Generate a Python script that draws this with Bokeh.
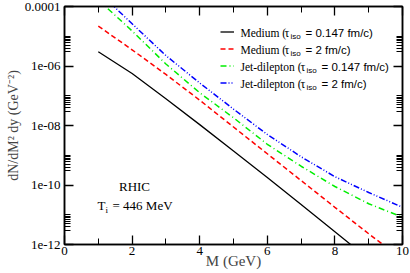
from bokeh.plotting import figure
from bokeh.models import (Range1d, LinearAxis, LogAxis, FixedTicker, CustomJSTickFormatter,
                          Legend, LegendItem, Label)
from bokeh.embed import file_html
from bokeh.resources import INLINE

# ---------------- data ----------------
M = [1, 2, 3, 4, 5, 6, 7, 8, 9, 10]
medium_tau0147 = [3.0e-6, 5.6e-7, 7.9e-8, 1.07e-8, 1.4e-9, 1.8e-10, 2.2e-11, 2.7e-12, 3.2e-13, 4.0e-14]
medium_tau2 = [2.2e-5, 3.5e-6, 5.2e-7, 7.1e-8, 8.9e-9, 1.12e-9, 1.41e-10, 1.78e-11, 2.3e-12, 3.2e-13]
jet_tau0147 = [1.66e-4, 1.51e-5, 1.17e-6, 1.26e-7, 1.82e-8, 2.34e-9, 4.27e-10, 8.9e-11, 2.34e-11, 8.3e-12]
jet_tau2 = [3.16e-4, 2.63e-5, 2.24e-6, 2.69e-7, 3.55e-8, 5.0e-9, 8.9e-10, 1.9e-10, 5.6e-11, 1.78e-11]

x_major = [0, 2, 4, 6, 8, 10]
x_minor = [1, 3, 5, 7, 9]
x_labels = ["0", "2", "4", "6", "8", "10"]
y_major = [1e-12, 1e-10, 1e-8, 1e-6, 1e-4]
y_labels = ["1e-12", "1e-10", "1e-08", "1e-06", "0.0001"]
y_minor = [k * 10.0 ** e for e in (-12, -10, -8, -6) for k in range(3, 11)]

series_names = ["Medium (", "Medium (", "Jet-dilepton (", "Jet-dilepton ("]
series_tau = ["= 0.147 fm/c)", "= 2 fm/c)", "= 0.147 fm/c)", "= 2 fm/c)"]

# ---------------- layout helpers (frame pixel geometry) ----------------
FL, FR, FT, FB = 64, 402, 6, 244
def mx(px):
    return (px - FL) / (FR - FL) * 10.0
def my(py):
    return 10.0 ** (-4.0 - (py - FT) / (FB - FT) * 8.0)

SERIF = "Liberation Serif"
SANS = "Liberation Sans"

p = figure(width=410, height=273, x_range=Range1d(0, 10), y_range=Range1d(1e-12, 1e-4),
           y_axis_type="log", output_backend="svg", toolbar_location=None,
           min_border_left=FL, min_border_right=410 - FR, min_border_top=FT,
           min_border_bottom=273 - FB)
p.xgrid.visible = False
p.ygrid.visible = False
p.outline_line_color = "black"
p.outline_line_width = 1.5
p.background_fill_color = "white"
p.border_fill_color = "white"

fmt_code = """
let best = 0, bd = Infinity;
for (let i = 0; i < vals.length; i++) {
  const d = logscale ? Math.abs(Math.log10(tick) - Math.log10(vals[i])) : Math.abs(tick - vals[i]);
  if (d < bd) { bd = d; best = i; }
}
return labs[best];
"""
empty_fmt = CustomJSTickFormatter(code="return '';")

def style_axis(ax, show_labels):
    ax.axis_line_color = "black"
    ax.axis_line_width = 1.5
    ax.major_tick_in = 9
    ax.major_tick_out = 0
    ax.minor_tick_in = 6
    ax.minor_tick_out = 0
    ax.major_tick_line_width = 1.3
    ax.minor_tick_line_width = 1
    ax.major_tick_line_color = "black"
    ax.minor_tick_line_color = "black"
    if show_labels:
        ax.major_label_text_font = SERIF
        ax.major_label_text_font_size = "13px"
        ax.major_label_text_color = "black"
    else:
        ax.major_label_text_font_size = "0px"
        ax.major_label_standoff = 0
        ax.formatter = empty_fmt

xt = FixedTicker(ticks=x_major, minor_ticks=x_minor)
yt = FixedTicker(ticks=y_major, minor_ticks=y_minor)

xa = p.xaxis[0]
xa.ticker = xt
xa.formatter = CustomJSTickFormatter(args=dict(vals=x_major, labs=x_labels, logscale=False), code=fmt_code)
style_axis(xa, True)
xa.major_label_standoff = 2
xa.axis_label = "M (GeV)"
xa.axis_label_text_font = SERIF
xa.axis_label_text_font_style = "normal"
xa.axis_label_text_font_size = "15px"
xa.axis_label_standoff = -5

ya = p.yaxis[0]
ya.ticker = yt
ya.formatter = CustomJSTickFormatter(args=dict(vals=y_major, labs=y_labels, logscale=True), code=fmt_code)
style_axis(ya, True)
ya.major_label_standoff = 4
ya.axis_label = "dN/dM\u00b2 dy (GeV\u207b\u00b2)"
ya.axis_label_text_font = SERIF
ya.axis_label_text_font_style = "normal"
ya.axis_label_text_font_size = "14px"
ya.axis_label_standoff = 1

top = LinearAxis(ticker=FixedTicker(ticks=x_major, minor_ticks=x_minor))
style_axis(top, False)
p.add_layout(top, "above")
right = LogAxis(ticker=FixedTicker(ticks=y_major, minor_ticks=y_minor))
style_axis(right, False)
p.add_layout(right, "right")

# ---------------- curves ----------------
r1 = p.line(M, medium_tau0147, line_color="black", line_width=1.3)
r2 = p.line(M, medium_tau2, line_color="#ff0000", line_width=1.5, line_dash="5 3")
r3 = p.line(M, jet_tau0147, line_color="#00ee00", line_width=1.5, line_dash="6 3 1 3")
r4 = p.line(M, jet_tau2, line_color="#0000ff", line_width=1.5, line_dash="6 2 1 2 1 2")

legend = Legend(items=[LegendItem(label=" ", renderers=[r]) for r in (r1, r2, r3, r4)],
                location=(220 - FL, FB - 91), padding=0, margin=0, spacing=0,
                glyph_width=14, glyph_height=17, label_height=17, label_width=1,
                label_standoff=0, border_line_color=None, background_fill_alpha=0,
                label_text_font_size="1px")
p.add_layout(legend)

def add_text(px, py, text, font, size, align="left"):
    p.add_layout(Label(x=mx(px), y=my(py), text=text, text_font=font, text_font_size=size,
                       text_align=align, text_baseline="middle", text_color="black"))

row_y = [32, 49, 66, 83]
for i in range(4):
    y = row_y[i]
    add_text(240, y, series_names[i], SERIF, "11.5px")
    if i < 2:
        tx, sx, ex = 284, 290, 305
    else:
        tx, sx, ex = 300, 306, 321
    add_text(tx, y, "\u03c4", SERIF, "12px")
    add_text(sx, y + 4, "iso", SANS, "8px")
    add_text(ex, y, series_tau[i], SANS, "11.5px")

add_text(134, 186, "RHIC", SERIF, "13px", align="center")
add_text(97, 205, "T", SERIF, "13px")
add_text(105, 209, "i", SERIF, "9px")
add_text(112, 205, "= 446 MeV", SERIF, "13px")

open("out.html", "w").write(file_html(p, INLINE))
